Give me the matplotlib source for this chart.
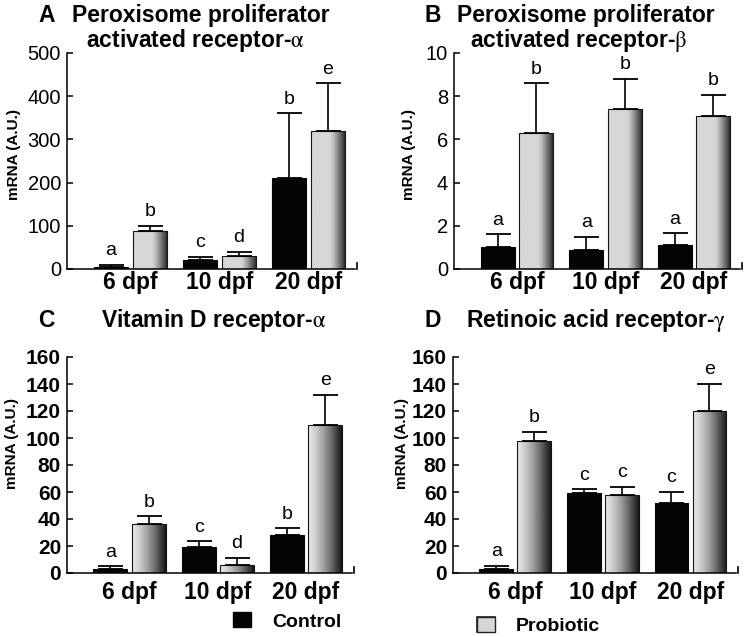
import numpy as np
import matplotlib
matplotlib.use('Agg')
import matplotlib.pyplot as plt
from matplotlib.patches import Patch, Rectangle

plt.rcParams['font.family'] = ['Liberation Sans', 'DejaVu Sans']
plt.rcParams['mathtext.fontset'] = 'stix'

# ---------------- data ----------------
groups = ['6 dpf', '10 dpf', '20 dpf']
series = ['Control', 'Probiotic']

a_ctrl = [5, 20, 210]
a_ctrl_err = [5, 8, 150]
a_prob = [88, 30, 320]
a_prob_err = [12, 10, 110]
a_ctrl_sig = ['a', 'c', 'b']
a_prob_sig = ['b', 'd', 'e']

b_ctrl = [1.0, 0.9, 1.1]
b_ctrl_err = [0.6, 0.6, 0.55]
b_prob = [6.3, 7.4, 7.1]
b_prob_err = [2.3, 1.4, 0.95]
b_ctrl_sig = ['a', 'a', 'a']
b_prob_sig = ['b', 'b', 'b']

c_ctrl = [3, 19, 28]
c_ctrl_err = [2, 4.5, 5]
c_prob = [36, 6, 110]
c_prob_err = [6, 5, 22]
c_ctrl_sig = ['a', 'c', 'b']
c_prob_sig = ['b', 'd', 'e']

d_ctrl = [3, 59, 52]
d_ctrl_err = [2.4, 3, 8]
d_prob = [98, 58, 120]
d_prob_err = [6.5, 6, 20]
d_ctrl_sig = ['a', 'c', 'c']
d_prob_sig = ['b', 'c', 'e']

a_yticks = [0, 100, 200, 300, 400, 500]
b_yticks = [0, 2, 4, 6, 8, 10]
cd_yticks = [0, 20, 40, 60, 80, 100, 120, 140, 160]

# ---------------- figure ----------------
W, H = 749, 637
fig = plt.figure(figsize=(W / 100, H / 100), dpi=100)


def fx(x):
    return x / W


def fy(y):
    return 1 - y / H


def gradient(style):
    t = np.linspace(0, 1, 256)
    if style == 'ab':
        g = np.where(t < 0.55, 0.84,
                     0.84 - (0.84 - 0.12) * (np.clip((t - 0.55) / 0.45, 0, 1)) ** 1.2)
    else:
        g = 0.9 - 0.82 * t ** 1.4
    return np.tile(g, (2, 1))


def grad_fill(ax, bar, style):
    x0, y0 = bar.get_x(), bar.get_y()
    w, h = bar.get_width(), bar.get_height()
    im = ax.imshow(gradient(style), cmap='gray', vmin=0, vmax=1,
                   extent=(x0, x0 + w, y0, y0 + h), aspect='auto',
                   interpolation='bilinear', zorder=2)
    im.set_clip_path(bar)


def panel(rect, ctrl, ctrl_err, prob, prob_err, ctrl_sig, prob_sig,
          yticks, style, bold_ticks, xpad, ylab_xy):
    ax = fig.add_axes(rect)
    x = np.arange(len(groups))
    off, bw = 0.2175, 0.385
    xc, xp = x - off, x + off
    ax.bar(xc, ctrl, bw, facecolor='#050505', edgecolor='#050505',
           linewidth=0.8, zorder=3)
    pbars = ax.bar(xp, prob, bw, facecolor='none', edgecolor='#151515',
                   linewidth=0.8, zorder=3)
    for b in pbars:
        grad_fill(ax, b, style)
    ax.errorbar(xc, ctrl, yerr=[np.zeros(len(ctrl)), ctrl_err], fmt='none',
                ecolor='black', elinewidth=1.2, capsize=9, capthick=1.3, zorder=4)
    ax.errorbar(xp, prob, yerr=[np.zeros(len(prob)), prob_err], fmt='none',
                ecolor='black', elinewidth=1.2, capsize=9, capthick=1.3, zorder=4)
    for xs, vals, errs, sigs in ((xc, ctrl, ctrl_err, ctrl_sig),
                                 (xp, prob, prob_err, prob_sig)):
        for xi, v, e, s in zip(xs, vals, errs, sigs):
            ax.annotate(s, xy=(xi, v + e), xytext=(0, 7), textcoords='offset points',
                        ha='center', va='baseline', fontsize=14)
    ax.set_xlim(-0.71, 2.52)
    ax.set_ylim(yticks[0], yticks[-1])
    ax.set_yticks(yticks)
    ax.set_xticks(x)
    ax.set_xticklabels(groups, fontweight='bold', fontsize=16.5)
    ax.tick_params(axis='x', length=0, pad=xpad)
    ax.tick_params(axis='y', direction='in', length=4, width=1.1, pad=4.3,
                   labelsize=15 if bold_ticks else 14.5)
    if bold_ticks:
        for lbl in ax.get_yticklabels():
            lbl.set_fontweight('bold')
    for s in ('top', 'right'):
        ax.spines[s].set_visible(False)
    for s in ('left', 'bottom'):
        ax.spines[s].set_linewidth(1.1)
    ax.plot([1.008, 1.008], [0, 0.028], transform=ax.transAxes, color='black',
            lw=1.2, clip_on=False)
    ax.set_ylabel('mRNA (A.U.)', fontweight='bold', fontsize=11)
    ax.yaxis.set_label_coords(*ylab_xy)
    return ax


hA = 216 / H
axA = panel([fx(67), fy(269), 288 / W, hA], a_ctrl, a_ctrl_err, a_prob, a_prob_err,
            a_ctrl_sig, a_prob_sig, a_yticks, 'ab', False, 1.5, (-0.159, 0.53))
axB = panel([fx(454), fy(269), 286 / W, hA], b_ctrl, b_ctrl_err, b_prob, b_prob_err,
            b_ctrl_sig, b_prob_sig, b_yticks, 'ab', False, 1.5, (-0.133, 0.53))
axC = panel([fx(67), fy(573), 285 / W, hA], c_ctrl, c_ctrl_err, c_prob, c_prob_err,
            c_ctrl_sig, c_prob_sig, cd_yticks, 'cd', True, 6, (-0.169, 0.60))
axD = panel([fx(453), fy(573), 283 / W, hA], d_ctrl, d_ctrl_err, d_prob, d_prob_err,
            d_ctrl_sig, d_prob_sig, cd_yticks, 'cd', True, 6, (-0.156, 0.60))

# ---------------- titles ----------------
tkw = dict(fontweight='bold', fontsize=16.5, va='baseline')
fig.text(fx(38), fy(22), 'A', ha='left', **tkw)
fig.text(fx(201), fy(22), 'Peroxisome proliferator', ha='center', **tkw)
fig.text(fx(195), fy(47), r'activated receptor-$\mathrm{\alpha}$', ha='center', **tkw)
fig.text(fx(425), fy(22), 'B', ha='left', **tkw)
fig.text(fx(586), fy(22), 'Peroxisome proliferator', ha='center', **tkw)
fig.text(fx(579), fy(47), r'activated receptor-$\mathrm{\beta}$', ha='center', **tkw)
fig.text(fx(38), fy(327), 'C', ha='left', **tkw)
fig.text(fx(214), fy(327), r'Vitamin D receptor-$\mathrm{\alpha}$', ha='center', **tkw)
fig.text(fx(425), fy(327), 'D', ha='left', **tkw)
fig.text(fx(596), fy(327), r'Retinoic acid receptor-$\mathrm{\gamma}$', ha='center', **tkw)

# ---------------- legends ----------------
lkw = dict(loc='center left', frameon=False, borderpad=0, borderaxespad=0,
           handlelength=0.93, handleheight=0.78, handletextpad=1.08,
           prop={'weight': 'bold', 'size': 14})
leg1 = fig.legend(handles=[Patch(facecolor='#050505', edgecolor='black')],
                  labels=[series[0]], bbox_to_anchor=(fx(233), fy(621.5)), **lkw)
leg2 = fig.legend(handles=[Patch(facecolor='#d6d6d6', edgecolor='#222222')],
                  labels=[series[1]], bbox_to_anchor=(fx(477), fy(626)), **lkw)

fig.canvas.draw()
p = leg2.get_patches()[0]
bb = p.get_window_extent().transformed(fig.transFigure.inverted())
lax = fig.add_axes([bb.x0, bb.y0, bb.width, bb.height])
lax.imshow(gradient('ab'), cmap='gray', vmin=0, vmax=1, aspect='auto',
           interpolation='bilinear', extent=(0, 1, 0, 1))
lax.add_patch(Rectangle((0, 0), 1, 1, fill=False, edgecolor='#222222', lw=1.2,
                        transform=lax.transAxes, clip_on=False))
lax.set_xlim(0, 1)
lax.set_ylim(0, 1)
lax.axis('off')

fig.savefig('out.png', dpi=100)
